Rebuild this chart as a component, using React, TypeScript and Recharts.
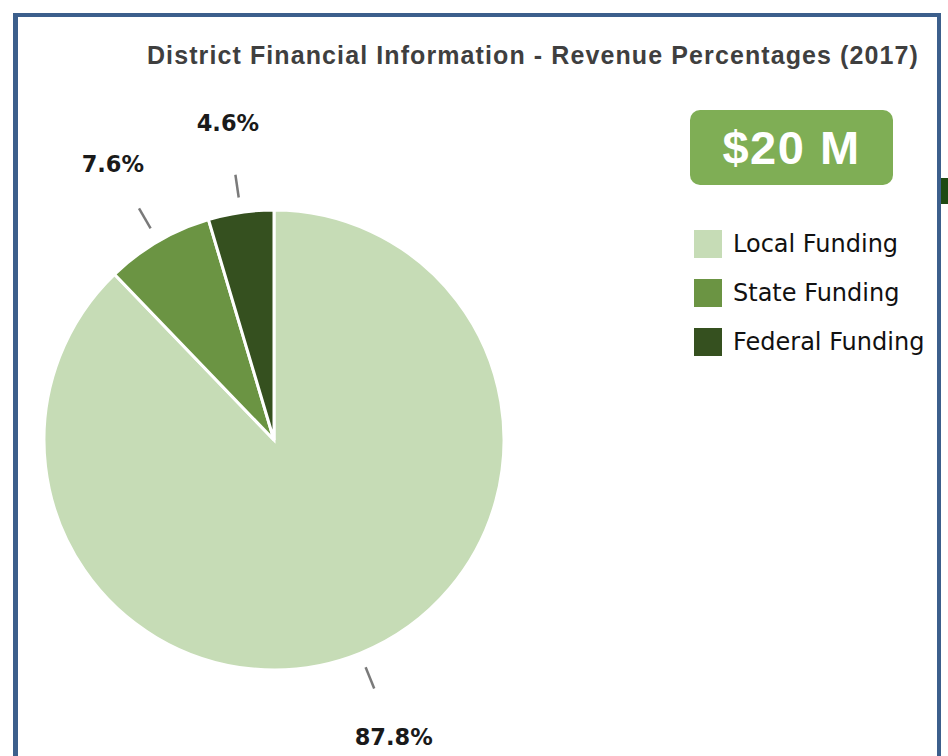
import React from 'react';
import { PieChart, Pie, Cell, Legend } from 'recharts';

const categories = ['Local Funding', 'State Funding', 'Federal Funding'];
const percentages = [87.8, 7.6, 4.6];
const sliceColors = ['#c6dcb6', '#6b9443', '#35501f'];
const totalLabel = '$20 M';
const chartTitle = 'District Financial Information - Revenue Percentages (2017)';

const data = categories.map((name, i) => ({ name, value: percentages[i] }));

const RADIAN = Math.PI / 180;

const renderLabel = (props: any) => {
  const { cx, cy, midAngle, outerRadius, value } = props;
  const cos = Math.cos(-midAngle * RADIAN);
  const sin = Math.sin(-midAngle * RADIAN);
  const r1 = outerRadius + 15;
  const r2 = outerRadius + 38;
  const rt = outerRadius + 90;
  return (
    <g>
      <line
        x1={cx + r1 * cos}
        y1={cy + r1 * sin}
        x2={cx + r2 * cos}
        y2={cy + r2 * sin}
        stroke="#7a7a7a"
        strokeWidth={2.5}
      />
      <text
        x={cx + rt * cos}
        y={cy + rt * sin}
        textAnchor="middle"
        dominantBaseline="central"
        fontFamily="'DejaVu Sans', sans-serif"
        fontWeight="bold"
        fontSize={22.5}
        fill="#1a1a1a"
      >
        {value.toFixed(1)}%
      </text>
    </g>
  );
};

const renderLegend = () => (
  <div style={{ fontFamily: "'DejaVu Sans', sans-serif" }}>
    {categories.map((c, i) => (
      <div key={c} style={{ display: 'flex', alignItems: 'center', height: 49 }}>
        <div style={{ width: 28, height: 28, background: sliceColors[i], marginRight: 11 }} />
        <span style={{ fontSize: 24, color: '#111', whiteSpace: 'nowrap' }}>{c}</span>
      </div>
    ))}
  </div>
);

const App: React.FC = () => {
  return (
    <div style={{ position: 'absolute', top: 0, left: 0, width: 948, height: 756, overflow: 'hidden', background: '#fff' }}>
      <div
        style={{
          position: 'absolute',
          left: 13,
          top: 13,
          width: 919,
          height: 800,
          borderTop: '4px solid #3c5f8c',
          borderLeft: '5px solid #3c5f8c',
          borderRight: '4px solid #3c5f8c',
        }}
      />
      <div style={{ position: 'absolute', left: 941, top: 178, width: 7, height: 26, background: '#1f4a13' }} />
      <div
        style={{
          position: 'absolute',
          top: 41,
          right: 29,
          fontFamily: "'Liberation Sans', Arial, sans-serif",
          fontWeight: 'bold',
          fontSize: 25,
          letterSpacing: 1.1,
          color: '#3f3f3f',
          whiteSpace: 'nowrap',
        }}
      >
        {chartTitle}
      </div>
      <div
        style={{
          position: 'absolute',
          left: 690,
          top: 110,
          width: 203,
          height: 75,
          borderRadius: 10,
          background: '#7fae55',
          color: '#fff',
          fontFamily: "'Liberation Sans', Arial, sans-serif",
          fontWeight: 'bold',
          fontSize: 47,
          letterSpacing: 1.5,
          display: 'flex',
          alignItems: 'center',
          justifyContent: 'center',
        }}
      >
        {totalLabel}
      </div>
      <PieChart
        width={948}
        height={756}
        margin={{ top: 0, right: 0, bottom: 0, left: 0 }}
        style={{ position: 'absolute', top: 0, left: 0 }}
      >
        <Pie
          data={data}
          dataKey="value"
          nameKey="name"
          cx={274}
          cy={440}
          outerRadius={230}
          startAngle={90}
          endAngle={-270}
          stroke="#ffffff"
          strokeWidth={3}
          label={renderLabel}
          labelLine={false}
          isAnimationActive={false}
        >
          {data.map((d, i) => (
            <Cell key={d.name} fill={sliceColors[i]} />
          ))}
        </Pie>
        <Legend
          layout="vertical"
          content={renderLegend}
          wrapperStyle={{ position: 'absolute', left: 694, top: 219, width: 250 }}
        />
      </PieChart>
    </div>
  );
};

export default App;
